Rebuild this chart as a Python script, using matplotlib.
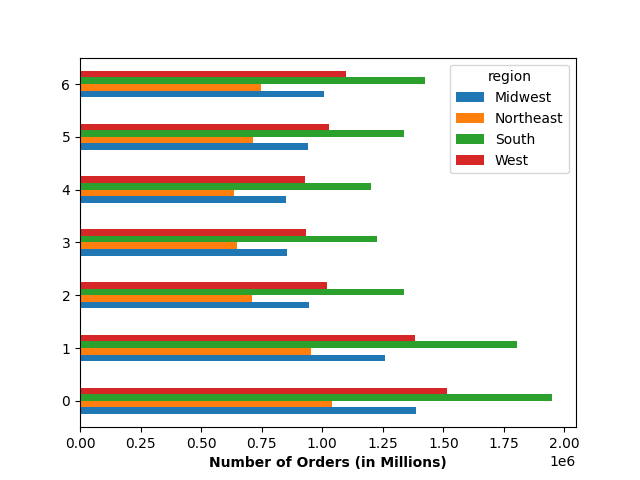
import matplotlib
matplotlib.use("Agg")
import matplotlib.pyplot as plt
import pandas as pd

groups = [0, 1, 2, 3, 4, 5, 6]
midwest = [1.388e6, 1.260e6, 0.946e6, 0.855e6, 0.851e6, 0.942e6, 1.008e6]
northeast = [1.041e6, 0.955e6, 0.711e6, 0.649e6, 0.636e6, 0.715e6, 0.748e6]
south = [1.950e6, 1.806e6, 1.339e6, 1.227e6, 1.202e6, 1.339e6, 1.426e6]
west = [1.517e6, 1.384e6, 1.021e6, 0.934e6, 0.930e6, 1.029e6, 1.099e6]

df = pd.DataFrame({"Midwest": midwest, "Northeast": northeast,
                   "South": south, "West": west}, index=groups)
df.columns.name = "region"

fig, ax = plt.subplots(figsize=(6.4, 4.8), dpi=100)
df.plot.barh(ax=ax)
ax.set_xlabel("Number of Orders (in Millions)", fontweight="bold")
ax.legend(title="region")
fig.savefig("out.png")
